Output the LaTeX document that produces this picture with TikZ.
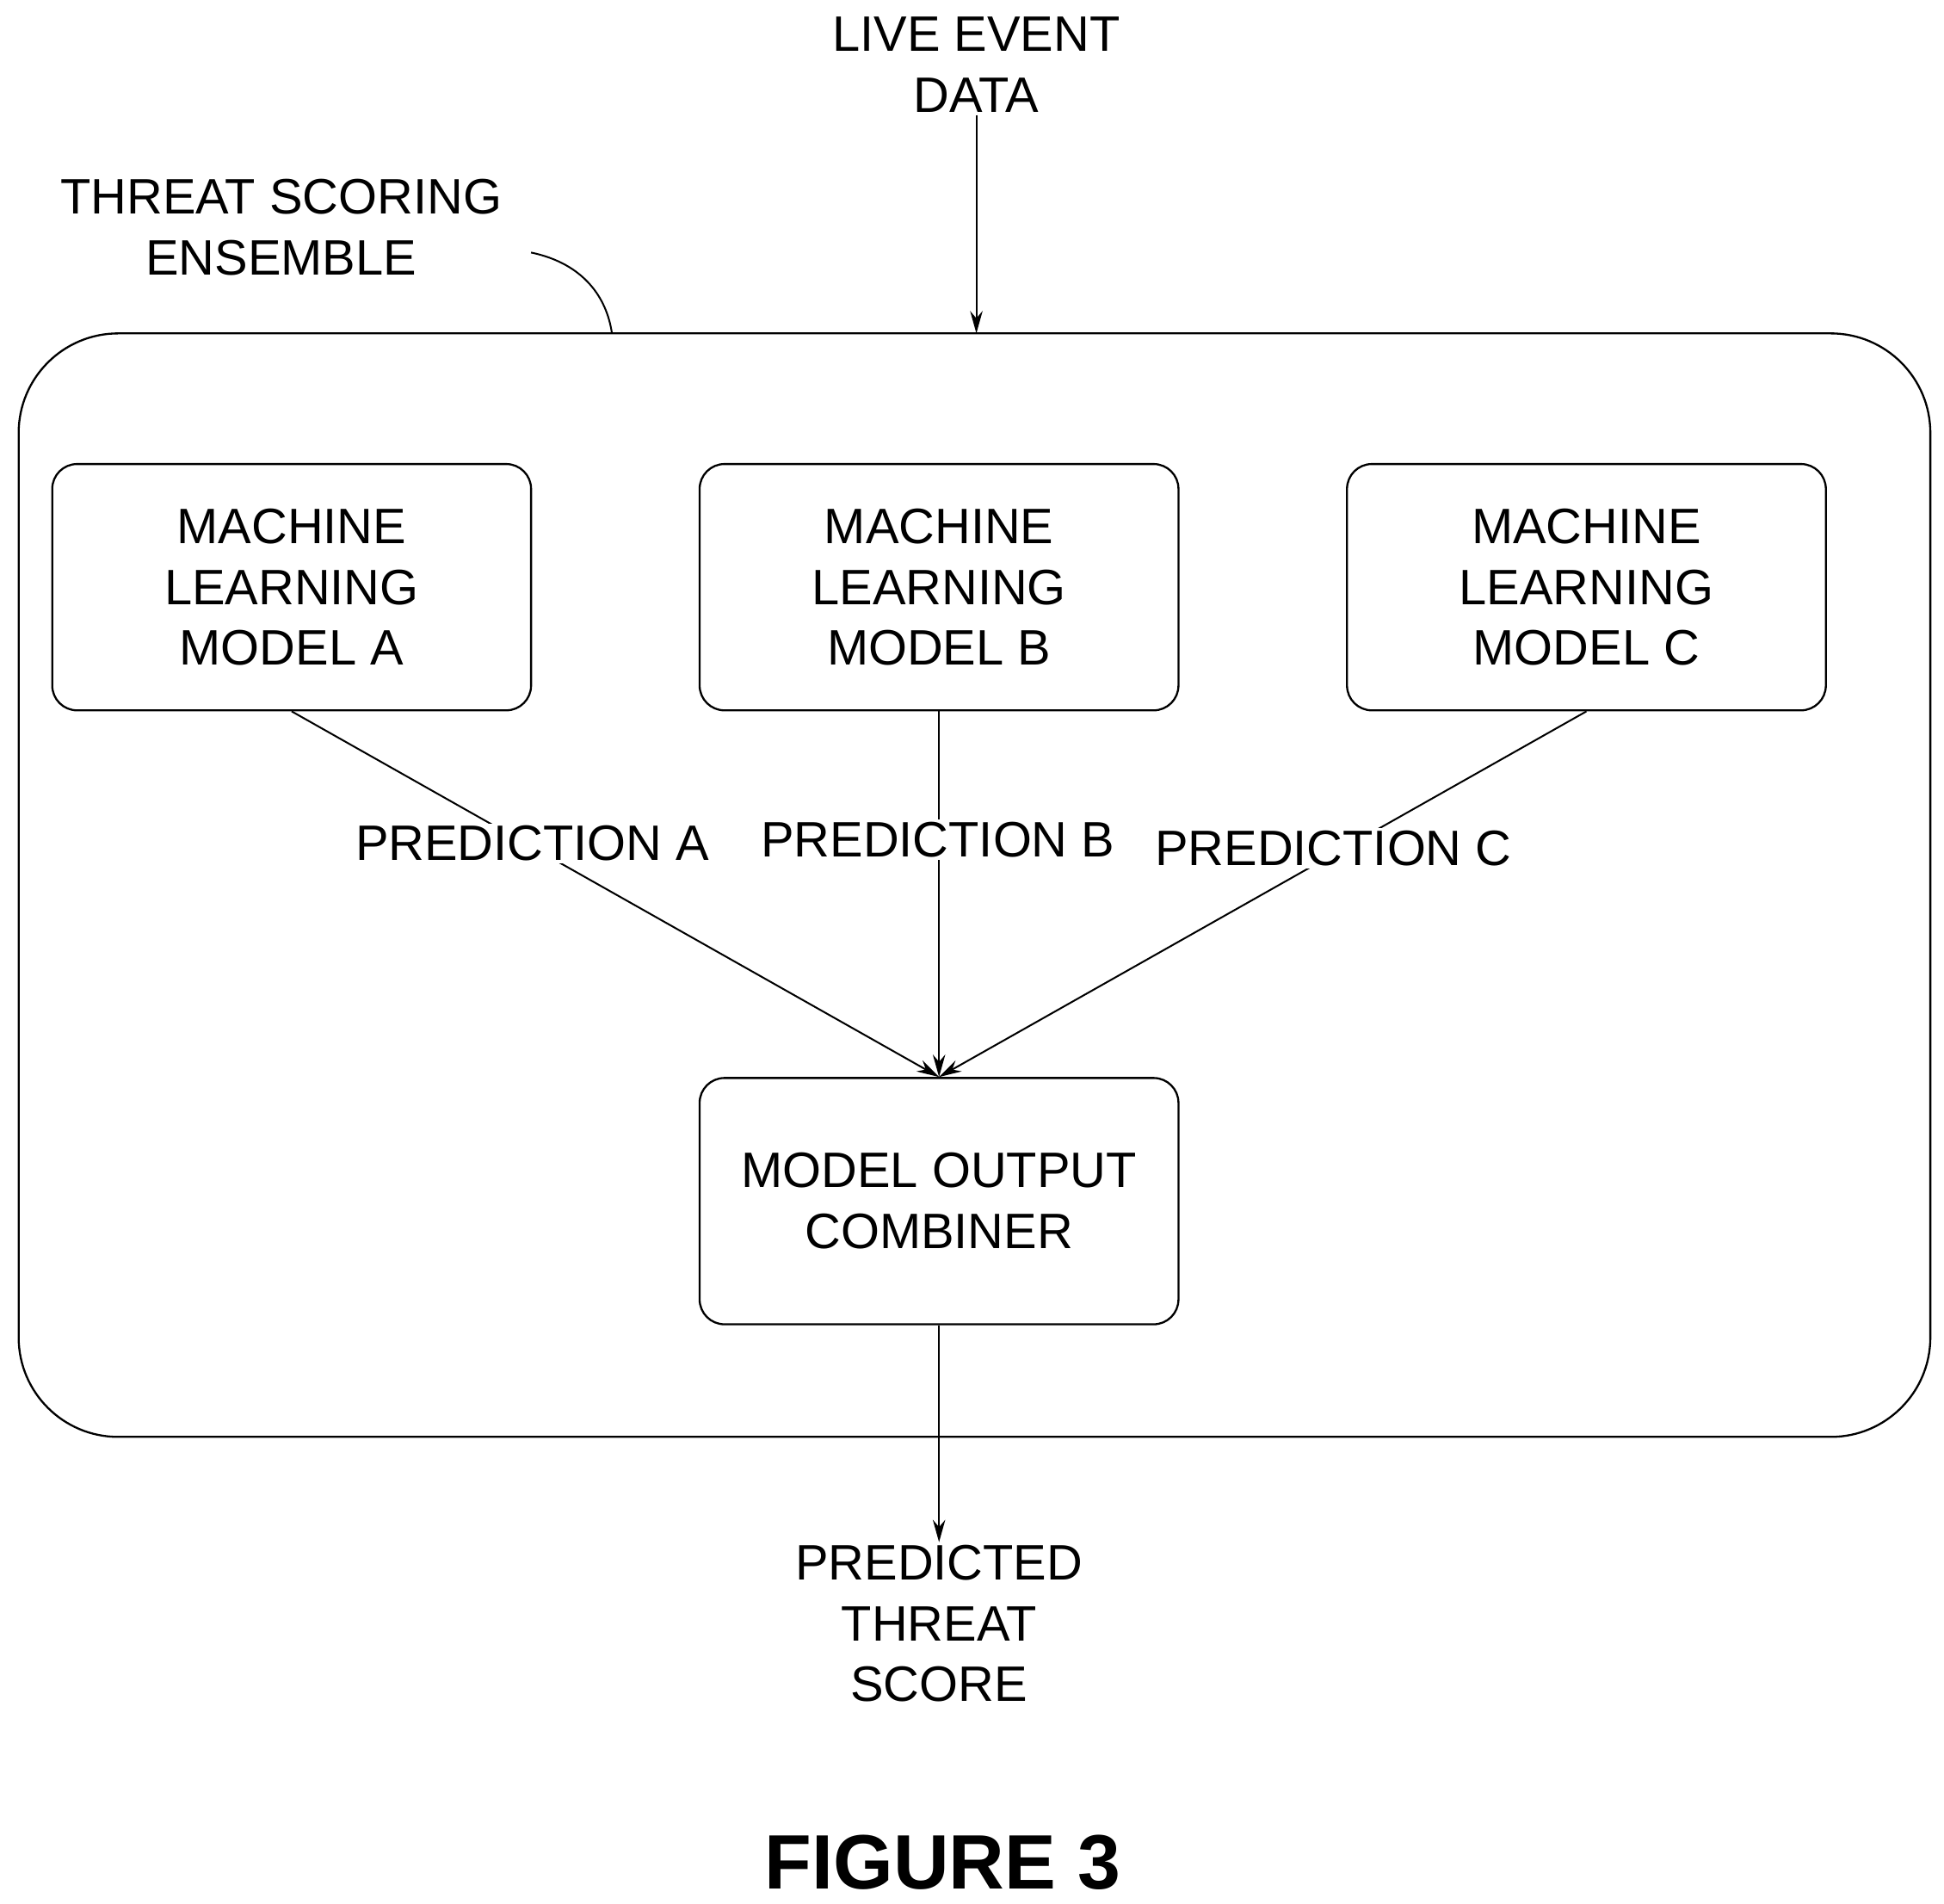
\documentclass[tikz,border=0pt]{standalone}
\usepackage{fontspec}
\setmainfont{Liberation Sans}
\usetikzlibrary{positioning,arrows.meta}

\tikzset{
  model/.style={draw,rounded corners=20pt,minimum width=385pt,minimum height=198pt,align=center,line width=1.6pt},
  lbl/.style={align=center,inner sep=2pt},
  conn/.style={line width=1.4pt},
  arr/.style={conn,-{Stealth[length=18pt,width=10pt]}}
}

\begin{document}
\begin{tikzpicture}[x=1pt,y=-1pt,font=\fontsize{40}{49}\selectfont]
\useasboundingbox (0,0) rectangle (1563,1530);

%ensemble frame
\draw [line width=1.6pt,rounded corners=80pt] (15,268) rectangle (1552,1155);
\node [lbl] (ens) at (226,183) {THREAT SCORING\\ENSEMBLE};
\draw [conn] (427,203) .. controls (470,212) and (488,240) .. (492,268);

%input
\node [lbl] (live) at (785,52) {LIVE EVENT\\DATA};
\coordinate (in) at (785,268);
\draw [arr] (live) -- (in);

%models
\node [model] (ma) at (234.5,472) {MACHINE\\LEARNING\\MODEL A};
\node [model] (mb) at (755,472) {MACHINE\\LEARNING\\MODEL B};
\node [model] (mc) at (1275.5,472) {MACHINE\\LEARNING\\MODEL C};
\node [model] (comb) at (755,965.5) {MODEL OUTPUT\\COMBINER};

%predictions
\draw [arr] (ma.south) -- (comb.north);
\draw [arr] (mb.south) -- (comb.north);
\draw [arr] (mc.south) -- (comb.north);
\node [lbl,fill=white] (pa) at (428,678) {PREDICTION A};
\node [lbl,fill=white] (pb) at (754,675) {PREDICTION B};
\node [lbl,fill=white] (pc) at (1072,682) {PREDICTION C};

%output
\node [lbl] (score) at (755,1305) {PREDICTED\\THREAT\\SCORE};
\draw [arr] (comb.south) -- (score.north);

\node [font=\fontsize{62}{70}\selectfont\bfseries] (fig) at (758,1497) {FIGURE 3};
\end{tikzpicture}
\end{document}
